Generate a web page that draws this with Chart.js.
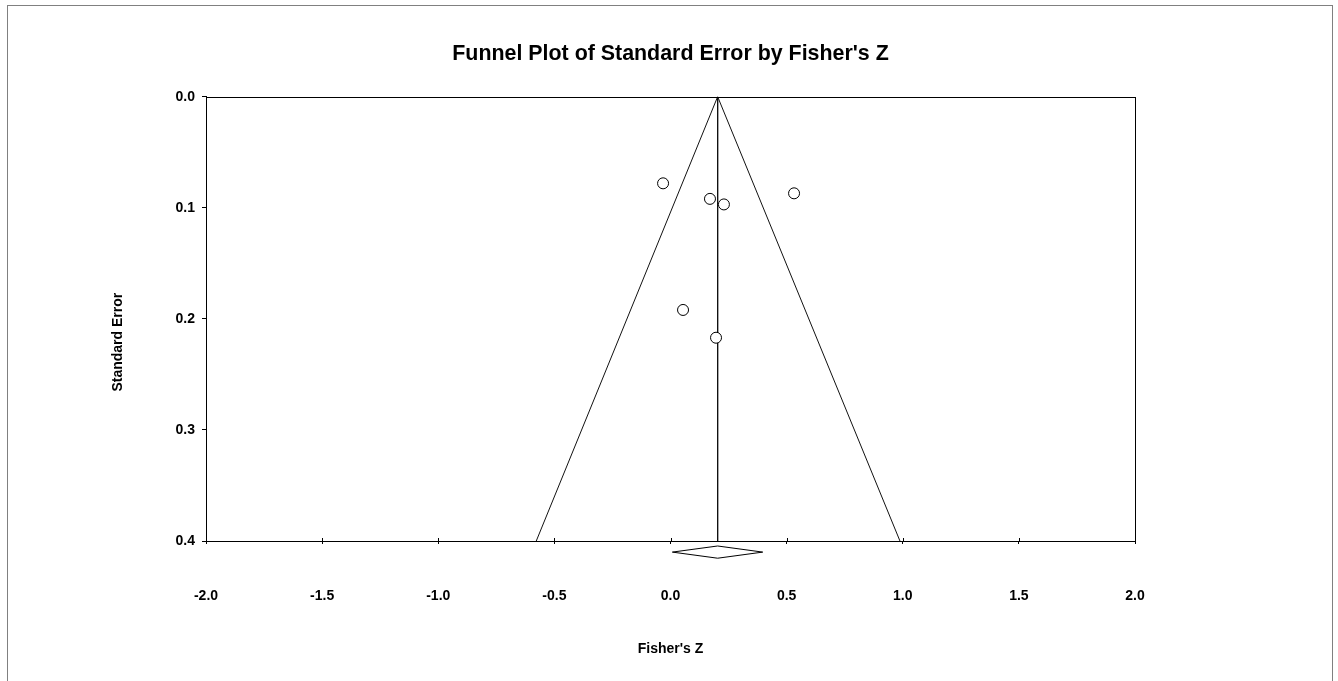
<!DOCTYPE html>
<html>
<head>
<meta charset="utf-8">
<script src="https://cdn.jsdelivr.net/npm/chart.js@4.4.1/dist/chart.umd.min.js"></script>
<style>
  body { margin: 0; background: #fff; overflow: hidden; }
  #page { position: absolute; left: 7px; top: 5px; width: 1326px; height: 700px;
          border: 1px solid #808080; border-bottom: none; box-sizing: border-box; }
  #wrap { position: absolute; left: 0; top: 0; width: 1338px; height: 681px; }
</style>
</head>
<body>
<div id="page"></div>
<div id="wrap"><canvas id="myChart"></canvas></div>
<script>
// Estudios: Fisher's Z y error estandar
const fisherZ = [-0.032, 0.170, 0.230, 0.532, 0.054, 0.196];
const stdErr = [0.078, 0.092, 0.097, 0.087, 0.192, 0.217];

// Efecto combinado y su intervalo (rombo)
const pooledZ = 0.203;
const pooledLow = 0.008;
const pooledHigh = 0.397;

// Bordes del embudo en SE = 0.4
const funnelLeft = -0.578;
const funnelRight = 0.988;
const seMax = 0.4;

const xTicks = [-2.0, -1.5, -1.0, -0.5, 0.0, 0.5, 1.0, 1.5, 2.0];
const yTicks = [0.0, 0.1, 0.2, 0.3, 0.4];

Chart.defaults.font.family = "'Liberation Sans', Arial, sans-serif";
Chart.defaults.color = '#000';

// marco del area y marcas hacia arriba en el eje X
const framePlugin = {
    id: 'frame',
    afterDatasetsDraw(chart) {
        const a = chart.chartArea;
        const c = chart.ctx;
        c.save();
        c.strokeStyle = '#000';
        c.lineWidth = 1;
        c.strokeRect(Math.round(a.left) + 0.5, Math.round(a.top) + 0.5,
            Math.round(a.right - a.left), Math.round(a.bottom - a.top));
        const xs = chart.scales.x;
        c.beginPath();
        xs.ticks.forEach(t => {
            const px = Math.round(xs.getPixelForValue(t.value)) + 0.5;
            c.moveTo(px, a.bottom - 3);
            c.lineTo(px, a.bottom);
        });
        c.stroke();
        c.restore();
    }
};

let ctx = document.getElementById('myChart');

let myChart = new Chart(ctx, {
    type: 'scatter',
    data: {
        datasets: [{
            label: 'Studies',
            data: fisherZ.map((z, i) => ({ x: z, y: stdErr[i] })),
            pointRadius: 5.5,
            pointBackgroundColor: '#fff',
            pointBorderColor: '#000',
            pointBorderWidth: 1,
            showLine: false,
            order: 0
        }, {
            label: 'Funnel',
            type: 'line',
            data: [{ x: funnelLeft, y: seMax }, { x: pooledZ, y: 0 }, { x: funnelRight, y: seMax }],
            borderColor: '#111',
            borderWidth: 1,
            pointRadius: 0,
            fill: false,
            order: 1
        }, {
            label: 'Mean',
            type: 'line',
            data: [{ x: pooledZ, y: 0 }, { x: pooledZ, y: seMax }],
            borderColor: '#111',
            borderWidth: 1,
            pointRadius: 0,
            fill: false,
            order: 1
        }, {
            label: 'Pooled',
            type: 'line',
            data: [
                { x: pooledLow, y: 0.41 },
                { x: pooledZ, y: 0.4045 },
                { x: pooledHigh, y: 0.41 },
                { x: pooledZ, y: 0.4155 },
                { x: pooledLow, y: 0.41 }
            ],
            borderColor: '#000',
            borderWidth: 1,
            pointRadius: 0,
            fill: false,
            clip: false,
            order: 1
        }]
    },
    options: {
        responsive: true,
        maintainAspectRatio: false,
        animation: false,
        layout: { padding: { left: 3, right: 0, top: 0, bottom: 0 } },
        plugins: {
            legend: { display: false },
            tooltip: { enabled: false },
            title: {
                display: true,
                text: "Funnel Plot of Standard Error by Fisher's Z",
                font: { size: 21.4, weight: 'bold' },
                color: '#000',
                padding: { top: 41, bottom: 30 }
            }
        },
        scales: {
            x: {
                type: 'linear',
                min: -2,
                max: 2,
                afterFit(scale) { scale.height = 140; },
                afterBuildTicks(scale) { scale.ticks = xTicks.map(v => ({ value: v })); },
                ticks: {
                    font: { size: 14, weight: 'bold' },
                    padding: 44,
                    callback: v => v.toFixed(1)
                },
                grid: { drawOnChartArea: false, drawTicks: true, tickLength: 3, color: '#000' },
                border: { display: true, color: '#000', width: 1 },
                title: {
                    display: true,
                    text: "Fisher's Z",
                    font: { size: 14, weight: 'bold' },
                    padding: { top: 0, bottom: 23 }
                }
            },
            y: {
                type: 'linear',
                reverse: true,
                min: 0,
                max: seMax,
                afterFit(scale) { scale.width = 203; },
                afterBuildTicks(scale) { scale.ticks = yTicks.map(v => ({ value: v })); },
                ticks: {
                    font: { size: 14, weight: 'bold' },
                    padding: 7,
                    callback: v => v.toFixed(1)
                },
                grid: { drawOnChartArea: false, drawTicks: true, tickLength: 4, color: '#000' },
                border: { display: true, color: '#000', width: 1 },
                title: {
                    display: true,
                    // espacios finales: el titulo queda algo por debajo del centro
                    text: 'Standard Error            ',
                    font: { size: 14, weight: 'bold' },
                    padding: { top: 107, bottom: 0 }
                }
            },
            y2: {
                type: 'linear',
                position: 'right',
                reverse: true,
                min: 0,
                max: seMax,
                afterFit(scale) { scale.width = 203; },
                ticks: { display: false },
                grid: { display: false },
                border: { display: false }
            }
        }
    },
    plugins: [framePlugin]
});
</script>
</body>
</html>
